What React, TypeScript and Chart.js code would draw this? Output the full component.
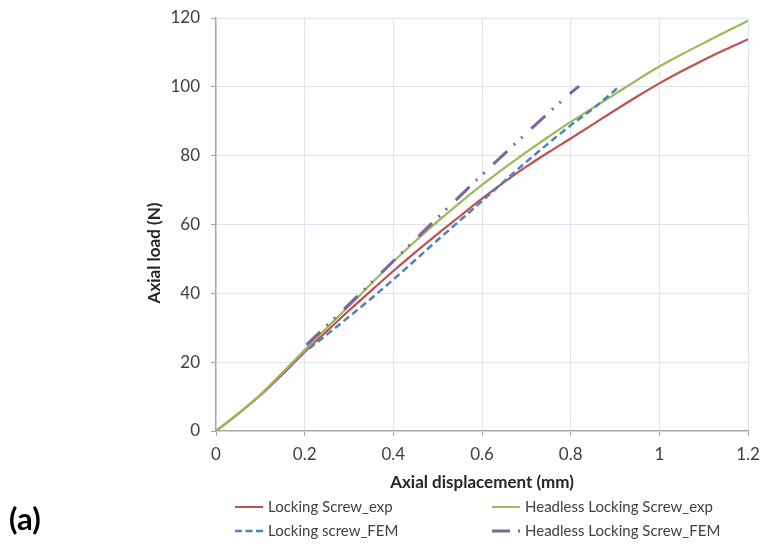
import React, { useEffect, useRef } from "react";
import { Chart, registerables } from "chart.js";

Chart.register(...registerables);

const xTicks = [0, 0.2, 0.4, 0.6, 0.8, 1, 1.2];
const yTicks = [0, 20, 40, 60, 80, 100, 120];

const expX = [0, 0.05, 0.1, 0.15, 0.2, 0.25, 0.3, 0.35, 0.4, 0.45, 0.5, 0.55, 0.6, 0.65, 0.7, 0.75, 0.8, 0.85, 0.9, 0.95, 1.0, 1.05, 1.1, 1.15, 1.2];
const lockingExp = [0, 5.0, 10.4, 16.5, 23.0, 29.0, 35.0, 40.8, 46.5, 52.0, 57.3, 62.4, 67.5, 72.3, 76.8, 81.0, 85.0, 89.1, 93.2, 97.2, 101.0, 104.5, 107.8, 110.9, 113.8];
const headlessExp = [0, 5.1, 10.6, 17.0, 23.5, 30.0, 36.3, 42.8, 49.2, 55.2, 60.9, 66.3, 71.5, 76.4, 81.0, 85.5, 89.8, 93.9, 97.9, 102.0, 105.9, 109.4, 112.7, 116.0, 119.2];

const lockingFemX = [0.21, 0.25, 0.3, 0.35, 0.4, 0.5, 0.6, 0.7, 0.8, 0.85, 0.907];
const lockingFem = [24.0, 28.0, 33.2, 38.5, 44.0, 55.5, 66.8, 78.2, 88.8, 93.6, 99.8];

const headlessFemX = [0.204, 0.3, 0.4, 0.5, 0.6, 0.7, 0.8, 0.819];
const headlessFem = [25.0, 36.8, 49.4, 62.0, 74.4, 86.5, 98.2, 100.2];

const seriesNames = [
  "Locking Screw_exp",
  "Headless Locking Screw_exp",
  "Locking screw_FEM",
  "Headless Locking Screw_FEM",
];
const xTitle = "Axial displacement (mm)";
const yTitle = "Axial load (N)";
const panelLabel = "(a)";

const RED = "#c0504d";
const GREEN = "#9bbb59";
const BLUE = "#4f81bd";
const PURPLE = "#8064a2";

const toPts = (xs: number[], ys: number[]) => xs.map((x, i) => ({ x, y: ys[i] }));

export default function App() {
  const ref = useRef<HTMLCanvasElement | null>(null);

  useEffect(() => {
    if (!ref.current) return;
    const FONT = "Lato, 'Open Sans', sans-serif";

    const overlay = {
      id: "overlay",
      afterDraw(chart: any) {
        const ctx = chart.ctx as CanvasRenderingContext2D;
        const ca = chart.chartArea;
        ctx.save();
        ctx.fillStyle = "#262626";
        ctx.font = `bold 17px ${FONT}`;
        ctx.textAlign = "center";
        ctx.textBaseline = "middle";
        ctx.fillText(xTitle, (ca.left + ca.right) / 2, 483);
        ctx.save();
        ctx.translate(155, 253);
        ctx.rotate(-Math.PI / 2);
        ctx.fillText(yTitle, 0, 0);
        ctx.restore();
        ctx.font = `bold 31px ${FONT}`;
        ctx.textAlign = "left";
        ctx.fillStyle = "#000";
        ctx.fillText(panelLabel, 9, 520);
        const items = [
          { x: 235, y: 507, color: RED, dash: [] as number[], lw: 2 },
          { x: 492, y: 507, color: GREEN, dash: [] as number[], lw: 2 },
          { x: 235, y: 531, color: BLUE, dash: [7, 3.5], lw: 2.5 },
          { x: 492, y: 531, color: PURPLE, dash: [18, 8, 2, 8], lw: 3 },
        ];
        ctx.font = `15px ${FONT}`;
        items.forEach((it, i) => {
          ctx.beginPath();
          ctx.strokeStyle = it.color;
          ctx.lineWidth = it.lw;
          ctx.setLineDash(it.dash);
          ctx.moveTo(it.x, it.y);
          ctx.lineTo(it.x + 28, it.y);
          ctx.stroke();
          ctx.setLineDash([]);
          ctx.fillStyle = "#404040";
          ctx.textAlign = "left";
          ctx.fillText(seriesNames[i], it.x + 33, it.y);
        });
        ctx.restore();
      },
    };

    const common = { showLine: true, pointRadius: 0, cubicInterpolationMode: "monotone" };

    const chart = new Chart(ref.current, {
      type: "scatter",
      data: {
        datasets: [
          { ...common, order: 3, label: seriesNames[0], data: toPts(expX, lockingExp), borderColor: RED, backgroundColor: RED, borderWidth: 2.2 },
          { ...common, order: 2, label: seriesNames[1], data: toPts(expX, headlessExp), borderColor: GREEN, backgroundColor: GREEN, borderWidth: 2.2 },
          { ...common, order: 1, label: seriesNames[2], data: toPts(lockingFemX, lockingFem), borderColor: BLUE, backgroundColor: BLUE, borderWidth: 2.5, borderDash: [7, 4] },
          { ...common, order: 0, label: seriesNames[3], data: toPts(headlessFemX, headlessFem), borderColor: PURPLE, backgroundColor: PURPLE, borderWidth: 3, borderDash: [19, 9, 2, 8, 2, 12] },
        ],
      },
      options: {
        animation: false,
        responsive: false,
        maintainAspectRatio: false,
        layout: { padding: { left: 0, right: 12, top: 18, bottom: 0 } },
        plugins: {
          legend: { display: false },
          tooltip: { enabled: false },
          title: { display: false },
        },
        scales: {
          x: {
            type: "linear",
            min: 0,
            max: 1.2,
            afterBuildTicks: (s: any) => {
              s.ticks = xTicks.map((v) => ({ value: v }));
            },
            afterFit: (s: any) => {
              s.height = 117;
              s.paddingLeft = 0;
              s.paddingRight = 0;
            },
            ticks: {
              font: { family: FONT, size: 17 },
              color: "#404040",
              padding: 8,
              maxRotation: 0,
              autoSkip: false,
              callback: (v: any) => String(v),
            },
            grid: { color: "#dde4f2", lineWidth: 1, tickLength: 5, tickColor: "#a6a6a6" },
            border: { color: "#a6a6a6", width: 1.3 },
          },
          y: {
            type: "linear",
            min: 0,
            max: 120,
            afterBuildTicks: (s: any) => {
              s.ticks = yTicks.map((v) => ({ value: v }));
            },
            afterFit: (s: any) => {
              s.width = 216;
              s.paddingTop = 0;
              s.paddingBottom = 0;
            },
            ticks: {
              font: { family: FONT, size: 17 },
              color: "#404040",
              padding: 11,
              autoSkip: false,
            },
            grid: { color: "#dde4f2", lineWidth: 1, tickLength: 5, tickColor: "#a6a6a6" },
            border: { color: "#a6a6a6", width: 1.3 },
          },
        },
      },
      plugins: [overlay],
    } as any);

    return () => chart.destroy();
  }, []);

  return (
    <div style={{ position: "absolute", left: 0, top: 0, width: 760, height: 548, background: "#fff" }}>
      <canvas ref={ref} width={760} height={548} style={{ width: 760, height: 548, display: "block" }} />
    </div>
  );
}
